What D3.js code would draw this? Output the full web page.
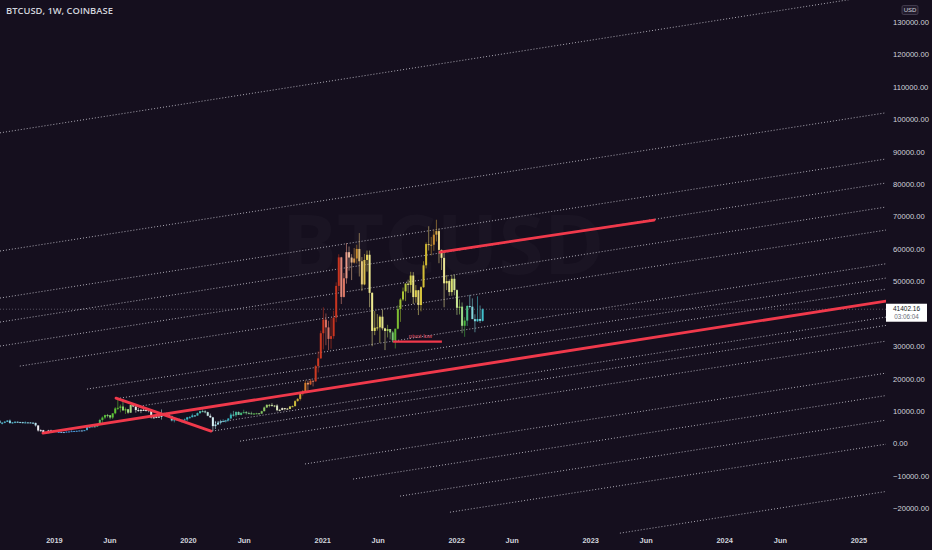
<!DOCTYPE html>
<html>
<head>
<meta charset="utf-8">
<script src="https://cdn.jsdelivr.net/npm/d3@7"></script>
<style>
  html, body { margin: 0; padding: 0; background: #150f1e; }
  svg { display: block; }
</style>
</head>
<body>
<svg id="chart"></svg>
<script>
// ---- data ----
const symbolTitle = "BTCUSD, 1W, COINBASE";
const firstWeek = "2018-08-06";

// weekly [open, high, low, close]
const ohlc2018 = [
  [7030,7160,6120,6310],[6310,6620,5880,6400],[6400,6900,6250,6700],[6700,7150,6650,7050],
  [7050,7400,6100,6300],[6300,6550,6180,6500],[6500,6800,6230,6700],[6700,6800,6450,6600],
  [6600,6700,6480,6580],[6580,6680,6150,6400],[6400,6800,6350,6500],[6500,6600,6450,6480],
  [6480,6550,6300,6400],[6400,6550,6300,6350],[6350,6400,5200,5550],[5550,5600,3650,4000],
  [4000,4400,3650,4100],[4100,4200,3300,3500],[3500,3600,3120,3200],[3200,4200,3200,4000],
  [4000,4250,3550,3700],[3700,4000,3650,4000]
];
const ohlc2019 = [
  [4000,4100,3450,3550],[3550,3750,3500,3550],[3550,3650,3450,3520],[3520,3530,3350,3450],
  [3450,3700,3380,3650],[3650,3700,3580,3700],[3700,4200,3650,3800],[3800,3900,3700,3850],
  [3850,3950,3680,3900],[3900,4000,3800,4000],[4000,4100,3900,3980],[3980,4150,3900,4100],
  [4100,5300,4080,5050],[5050,5480,4900,5050],[5050,5350,5000,5280],[5280,5650,5100,5200],
  [5200,5900,5150,5750],[5750,7600,5700,7250],[7250,8350,6200,8000],[8000,8900,7500,8750],
  [8750,9100,8000,8700],[8700,8800,7450,8000],[8000,9300,7550,9300],[9300,11200,9000,10800],
  [10800,13900,10300,11000],[11000,12000,9600,11400],[11400,13200,10100,10200],[10200,11100,9100,10550],
  [10550,10650,9150,9500],[9500,11900,9400,11850],[11850,12300,11200,11400],[11400,11450,9500,10300],
  [10300,10950,9800,10150],[10150,10650,9350,10350],[10350,10900,10200,10300],[10300,10500,9900,10300],
  [10300,10400,9600,10050],[10050,10100,7700,8050],[8050,8500,7750,7900],[7900,8700,7800,8300],
  [8300,8400,7850,8200],[8200,10500,7350,9200],[9200,9500,9000,9300],[9300,9500,8700,8800],
  [8800,9100,8300,8500],[8500,8500,6800,7100],[7100,7900,6500,7400],[7400,7750,7100,7500],
  [7500,7650,7000,7100],[7100,7500,6450,7150],[7150,7700,7100,7400],[7400,8200,6900,8050]
];
const ohlc2020 = [
  [8050,8450,7700,8100],[8100,9200,8050,8650],[8650,8750,8250,8600],[8600,9550,8600,9350],
  [9350,10150,9150,9950],[9950,10500,9700,9900],[9900,10250,9300,9650],[9650,9800,8400,8550],
  [8550,9200,7900,8050],[8050,8200,3850,5350],[5350,6950,4450,5850],[5850,6950,5750,6400],
  [6400,7300,5850,6800],[6800,7450,6750,6900],[6900,7300,6450,7100],[7100,7800,6800,7700],
  [7700,9450,7650,8900],[8900,10050,8300,8700],[8700,9950,8200,9700],[9700,9900,8800,8800],
  [8800,9600,8650,9450],[9450,10400,9250,9650],[9650,10000,8900,9350],[9350,9800,9200,9300],
  [9300,9800,8950,9100],[9100,9300,8900,9250],[9250,9450,9100,9300],[9300,9350,9050,9200],
  [9200,10100,9150,9950],[9950,11400,9900,11100],[11100,12100,10950,11900],[11900,12150,11150,11900],
  [11900,12500,11350,11650],[11650,11800,11150,11700],[11700,12100,9900,10250],[10250,10650,9900,10350],
  [10350,11100,10250,10900],[10900,10950,10150,10750],[10750,10950,10400,10650],[10650,11450,10550,11400],
  [11400,11700,11200,11500],[11500,13350,11450,13050],[13050,14000,12950,13750],[13750,15950,13250,15450],
  [15450,16500,14800,16050],[16050,19450,15850,18700],[18700,19400,16200,18200],[18200,19900,18000,19350],
  [19350,19400,17600,19150],[19150,24250,19050,23850],[23850,28400,21900,26250],[26250,34800,26100,34000]
];
const ohlc2021 = [
  [34000,42000,29000,38200],[38200,40100,30300,35800],[35800,37850,28800,32250],[32250,38600,29200,33100],
  [33100,40950,32300,38800],[38800,49700,37400,48600],[48600,58350,47000,57400],[57400,57550,43000,45200],
  [45200,52600,45000,50950],[50950,61800,49300,59000],[59000,60750,53300,57350],[57350,58400,50400,55800],
  [55800,60300,55500,57050],[57050,61300,55500,60000],[60000,64900,51500,56200],[56200,57500,47000,49050],
  [49050,58450,48800,56600],[56600,59500,53000,58200],[58200,59500,42000,46450],[46450,46650,30000,34700],
  [34700,40850,33400,35700],[35700,39900,34800,35800],[35800,39500,31000,39100],[39100,41300,34900,35500],
  [35500,35700,28800,34700],[34700,36600,32700,35300],[35300,35300,32100,34250],[34250,34700,31100,31800],
  [31800,35400,29300,35400],[35400,42600,35200,41500],[41500,44800,37500,44400],[44400,48100,43900,46900],
  [46900,49400,43900,49300],[49300,50500,46400,48900],[48900,52950,46500,51800],[51800,52850,43000,45150],
  [45150,48850,43400,47250],[47250,47350,39600,42700],[42700,48500,40750,48200],[48200,56200,48000,54950],
  [54950,62000,54000,61500],[61500,67000,59500,61300],[61300,63700,58000,61300],[61300,66000,59400,64400],
  [64400,69000,62300,65500],[65500,66300,55600,59700],[59700,59800,53500,57250],[57250,59200,42000,49400],
  [49400,51950,47300,50100],[50100,50600,45550,46700],[46700,52000,45550,50800],[50800,52100,45700,47300]
];
const ohlc2022 = [
  [47300,47550,39650,41850],[41850,44450,39800,42200],[42200,43500,34000,36300],[36300,38950,32900,37900],
  [37900,42650,36250,42400],[42400,45850,41650,42200],[42200,44750,39450,38350],[38350,39850,34300,37700],
  [37700,45400,37500,38400],[38400,42550,37150,37800],[37800,41700,37600,41402.16]
];

const lastPrice = 41402.16;
const countdown = "03:06:04";
const currency = "USD";

const priceTicks = [130000,120000,110000,100000,90000,80000,70000,60000,50000,40000,30000,20000,10000,0,-10000,-20000];
const timeTicks = ["2019-01-01","2019-06-01","2020-01-01","2020-06-01","2021-01-01","2021-06-01",
                   "2022-01-01","2022-06-01","2023-01-01","2023-06-01","2024-01-01","2024-06-01","2025-01-01"];
const timeTickLabels = ["2019","Jun","2020","Jun","2021","Jun","2022","Jun","2023","Jun","2024","Jun","2025"];

// parallel dotted channel lines: [start date, start price, end date, end price]
const channelLines = [
  ["2018-08-07", 95810, "2025-03-17", 138670],
  ["2018-08-07", 59350, "2025-03-17", 102000],
  ["2018-08-07", 44850, "2025-03-17", 87750],
  ["2018-08-07", 37440, "2025-03-17", 80340],
  ["2018-08-07", 30030, "2025-03-17", 72930],
  ["2018-09-30", 23860, "2025-03-17", 65830],
  ["2019-04-01", 16760, "2025-03-17", 55430],
  ["2019-06-30", 13980, "2025-03-17", 51020],
  ["2019-08-23", 11510, "2025-03-17", 47620],
  ["2020-03-07", 6260,  "2025-03-17", 38980],
  ["2020-03-07", 3800,  "2025-03-17", 36420],
  ["2020-05-22", 710,   "2025-03-17", 31570],
  ["2020-11-15", -6330, "2025-03-17", 21700],
  ["2021-03-26", -10990,"2025-03-17", 14780],
  ["2021-08-01", -16240,"2025-03-17", 7190],
  ["2021-12-15", -21200,"2025-03-17", -220],
  ["2023-03-23", -27670,"2025-03-17", -14810]
];

// red trend lines: [start date, start price, end date, end price]
const trendLines = [
  ["2018-12-02", 3180,  "2025-03-17", 43920],
  ["2019-06-19", 13980, "2020-03-04", 3800],
  ["2021-11-18", 59040, "2023-06-24", 68920]
];
const pivotLow = { start: "2021-07-13", end: "2021-11-23", price: 31420, label: "pivot low" };

// candle colour bands (indicator bar colouring)
const colourDates = ["2018-08-06","2018-11-05","2018-11-19","2018-12-24","2019-01-14","2019-03-18",
  "2019-04-15","2019-05-13","2019-07-15","2019-08-12","2019-10-14","2019-11-11","2020-01-20","2020-02-10",
  "2020-03-02","2020-03-23","2020-04-20","2020-05-25","2020-06-22","2020-08-10","2020-09-14","2020-10-12",
  "2020-11-02","2020-11-23","2020-12-14","2021-02-15","2021-03-08","2021-04-05","2021-05-10","2021-06-21",
  "2021-07-12","2021-08-02","2021-09-06","2021-10-11","2021-11-01","2021-11-22","2021-12-20","2022-01-10",
  "2022-01-24","2022-02-07","2022-03-14"];
const colourValues = ["#56c6dc","#60c8e0","#e6e6ee","#d8d8e8","#4a8fd6","#4a9ad8",
  "#3cb6c8","#55c03a","#66c830","#e8eadc","#e0e8e0","#48c0cc","#3cbcc8","#50c0a0",
  "#d8f0f4","#9ee0ea","#34b4c4","#44b878","#4cb848","#a8d070","#e8e8d0","#c8c840",
  "#d0a030","#d86a28","#cc3a22","#c83420","#e89a88","#c88e30","#e8e060","#d8d860",
  "#40b038","#9cc030","#e0d450","#d0b830","#c88a30","#e6d660","#d8e070","#a0d860",
  "#48b840","#50c8d0","#40c0cc"];

// ---- drawing ----
const width = 932, height = 550;
const plotW = 886, plotH = 536;
const bg = "#150f1e";
const textColour = "#d1d4dc";
const red = "#f0394b";

const svg = d3.select("#chart").attr("width", width).attr("height", height);
svg.append("rect").attr("width", width).attr("height", height).attr("fill", bg);

const parse = d3.utcParse("%Y-%m-%d");

const candles = [].concat(ohlc2018, ohlc2019, ohlc2020, ohlc2021, ohlc2022);
const weeks = d3.utcMonday.every(1).range(parse(firstWeek), d3.utcWeek.offset(parse(firstWeek), candles.length));
const data = candles.map((c, i) => ({ date: weeks[i], open: c[0], high: c[1], low: c[2], close: c[3] }));

const x = d3.scaleUtc().domain([parse("2018-08-07"), parse("2025-03-17")]).range([0, plotW]);
const y = d3.scaleLinear().domain([-20000, 130000]).range([508.3, 22]);

const colour = d3.scaleUtc()
  .domain(colourDates.map(parse))
  .range(colourValues)
  .interpolate(d3.interpolateRgb)
  .clamp(true);

svg.append("clipPath").attr("id", "plot-clip")
  .append("rect").attr("width", plotW).attr("height", plotH);

const plot = svg.append("g").attr("clip-path", "url(#plot-clip)");

// watermark
plot.append("text")
  .attr("x", 443).attr("y", 274)
  .attr("text-anchor", "middle")
  .attr("font-family", "Open Sans, sans-serif")
  .attr("font-weight", 700)
  .attr("font-size", 82)
  .attr("fill", "rgba(255,255,255,0.022)")
  .text("BTCUSD");

// dotted channel lines
plot.selectAll(".channel")
  .data(channelLines)
  .enter()
  .append("line")
  .attr("class", "channel")
  .attr("x1", d => x(parse(d[0])))
  .attr("y1", d => y(d[1]))
  .attr("x2", d => x(parse(d[2])))
  .attr("y2", d => y(d[3]))
  .attr("stroke", "#c4c2cc")
  .attr("stroke-opacity", 0.85)
  .attr("stroke-width", 1)
  .attr("stroke-dasharray", "1,2");

// last price line
plot.append("line")
  .attr("x1", 0).attr("x2", plotW)
  .attr("y1", y(lastPrice)).attr("y2", y(lastPrice))
  .attr("stroke", "#9a98a4")
  .attr("stroke-opacity", 0.5)
  .attr("stroke-dasharray", "1,2");

// candles
const bodyW = (x(weeks[1]) - x(weeks[0])) * 0.78;
const candle = plot.selectAll(".candle")
  .data(data)
  .enter()
  .append("g")
  .attr("class", "candle");

const candleColour = d => {
  const c = colour(d.date);
  return d.close >= d.open ? c : d3.interpolateRgb(c, "#ffffff")(0.3);
};

candle.append("line")
  .attr("x1", d => x(d.date)).attr("x2", d => x(d.date))
  .attr("y1", d => y(d.high)).attr("y2", d => y(d.low))
  .attr("stroke", candleColour)
  .attr("stroke-opacity", 0.7)
  .attr("stroke-width", 0.8);

candle.append("rect")
  .attr("x", d => x(d.date) - bodyW / 2)
  .attr("width", bodyW)
  .attr("y", d => y(Math.max(d.open, d.close)))
  .attr("height", d => Math.max(1, Math.abs(y(d.open) - y(d.close))))
  .attr("fill", candleColour);

// red trend lines
plot.selectAll(".trend")
  .data(trendLines)
  .enter()
  .append("line")
  .attr("class", "trend")
  .attr("x1", d => x(parse(d[0])))
  .attr("y1", d => y(d[1]))
  .attr("x2", d => x(parse(d[2])))
  .attr("y2", d => y(d[3]))
  .attr("stroke", red)
  .attr("stroke-width", 2.8)
  .attr("stroke-linecap", "round");

plot.append("line")
  .attr("x1", x(parse(pivotLow.start))).attr("x2", x(parse(pivotLow.end)))
  .attr("y1", y(pivotLow.price)).attr("y2", y(pivotLow.price))
  .attr("stroke", red)
  .attr("stroke-width", 2.2);

plot.append("text")
  .attr("x", (x(parse(pivotLow.start)) + x(parse(pivotLow.end))) / 2 + 3)
  .attr("y", y(pivotLow.price) - 3.5)
  .attr("text-anchor", "middle")
  .attr("font-family", "Liberation Sans, Arial, sans-serif")
  .attr("font-size", 6)
  .attr("fill", "#e0566a")
  .text(pivotLow.label);

// price axis (labels hidden behind the last price badge are skipped, as on the platform)
const lp = y(lastPrice);
const yAxis = d3.axisRight(y)
  .tickValues(priceTicks.filter(p => Math.abs(y(p) - lp) > 14))
  .tickFormat(d3.format(".2f"))
  .tickSize(0)
  .tickPadding(7);

svg.append("g")
  .attr("transform", `translate(${plotW}, 0)`)
  .call(yAxis)
  .call(g => g.select(".domain").remove())
  .selectAll("text")
  .attr("fill", textColour)
  .attr("font-family", "Liberation Sans, Arial, sans-serif")
  .attr("font-size", 7.6);

// time axis
const xAxis = d3.axisBottom(x)
  .tickValues(timeTicks.map(parse))
  .tickFormat((d, i) => timeTickLabels[i])
  .tickSize(0)
  .tickPadding(3);

svg.append("g")
  .attr("transform", `translate(0, 535)`)
  .call(xAxis)
  .call(g => g.select(".domain").remove())
  .selectAll("text")
  .attr("fill", textColour)
  .attr("font-family", "Liberation Sans, Arial, sans-serif")
  .attr("font-weight", 700)
  .attr("font-size", 7.4);

// currency badge
svg.append("rect")
  .attr("x", 902).attr("y", 5.5).attr("width", 16).attr("height", 9)
  .attr("rx", 1.5)
  .attr("fill", "#221b2c")
  .attr("stroke", "#5a5466")
  .attr("stroke-width", 0.6);
svg.append("text")
  .attr("x", 910).attr("y", 12.3)
  .attr("text-anchor", "middle")
  .attr("font-family", "Liberation Sans, Arial, sans-serif")
  .attr("font-size", 6)
  .attr("fill", textColour)
  .text(currency);

// last price badge
svg.append("rect")
  .attr("x", plotW).attr("y", lp - 5.5).attr("width", 41).attr("height", 18)
  .attr("fill", "#ffffff");
svg.append("text")
  .attr("x", plotW + 20.5).attr("y", lp + 2)
  .attr("text-anchor", "middle")
  .attr("font-family", "Liberation Sans, Arial, sans-serif")
  .attr("font-size", 6.5)
  .attr("fill", "#131722")
  .text(d3.format(".2f")(lastPrice));
svg.append("text")
  .attr("x", plotW + 20.5).attr("y", lp + 10.2)
  .attr("text-anchor", "middle")
  .attr("font-family", "Liberation Sans, Arial, sans-serif")
  .attr("font-size", 6.3)
  .attr("fill", "#6a6d78")
  .text(countdown);

// title
svg.append("text")
  .attr("x", 6).attr("y", 14)
  .attr("font-family", "Open Sans, sans-serif")
  .attr("font-weight", 600)
  .attr("font-size", 9.4)
  .attr("fill", textColour)
  .text(symbolTitle);
</script>
</body>
</html>
